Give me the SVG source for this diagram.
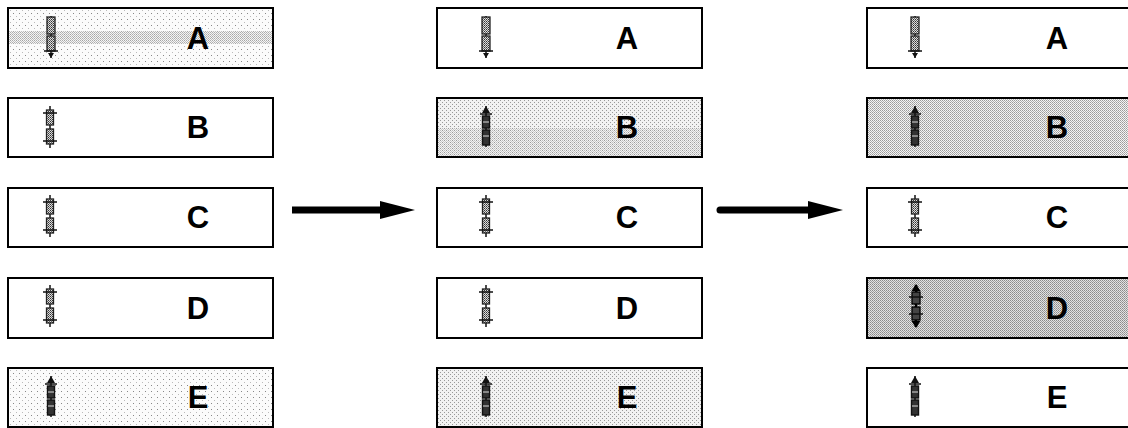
<svg xmlns="http://www.w3.org/2000/svg" width="1128" height="428" viewBox="0 0 1128 428">
<style>
.box{stroke:#000;stroke-width:2;fill:#fff}
.lbl{font-family:"Liberation Sans",Arial,sans-serif;font-weight:bold;font-size:31px;fill:#000;text-anchor:middle}
.ic{stroke:#222;stroke-width:1.3;fill:url(#hatch)}
.icd{stroke:#111;stroke-width:1.4;fill:#333}
.ln{stroke:#111;stroke-width:1.5;fill:none}
</style>
<defs>
<pattern id="hatch" width="2" height="2" patternUnits="userSpaceOnUse">
<rect width="2" height="2" fill="#ddd"/>
<rect x="0" y="0" width="1" height="1" fill="#333"/>
<rect x="1" y="1" width="1" height="1" fill="#666"/>
</pattern>
<pattern id="light" width="6" height="6" patternUnits="userSpaceOnUse">
<rect width="6" height="6" fill="#fbfbfb"/>
<rect x="1" y="1" width="1" height="1" fill="#888"/>
<rect x="4" y="4" width="1" height="1" fill="#bbb"/>
</pattern>
<pattern id="med" width="4" height="4" patternUnits="userSpaceOnUse">
<rect width="4" height="4" fill="#f2f2f2"/>
<rect x="0" y="0" width="1" height="1" fill="#999"/>
<rect x="2" y="2" width="1" height="1" fill="#999"/>
</pattern>
<pattern id="dense" width="2" height="2" patternUnits="userSpaceOnUse">
<rect width="2" height="2" fill="#f4f4f4"/>
<rect x="0" y="0" width="1" height="1" fill="#9a9a9a"/>
<rect x="1" y="1" width="1" height="1" fill="#b0b0b0"/>
</pattern>
<pattern id="dense2" width="2" height="2" patternUnits="userSpaceOnUse">
<rect width="2" height="2" fill="#e2e2e2"/>
<rect x="0" y="0" width="1" height="1" fill="#8a8a8a"/>
<rect x="1" y="1" width="1" height="1" fill="#a0a0a0"/>
</pattern>
<symbol id="pin" overflow="visible">
<line class="ln" x1="0" y1="-21" x2="0" y2="21"/>
<rect class="ic" x="-3.5" y="-17" width="7" height="15"/>
<rect class="ic" x="-3.5" y="2" width="7" height="15"/>
<line class="ln" x1="-7" y1="-14" x2="7" y2="-14"/>
<line class="ln" x1="-7" y1="14" x2="7" y2="14"/>
</symbol>
<symbol id="down" overflow="visible">
<line class="ln" x1="0" y1="-21" x2="0" y2="21"/>
<rect class="ic" x="-4" y="-20" width="8" height="17"/>
<rect class="ic" x="-4" y="-1" width="8" height="15"/>
<line class="ln" x1="-7" y1="14" x2="7" y2="14"/>
<path d="M-3,16 L0,21 L3,16 Z" fill="#111"/>
</symbol>
<symbol id="up" overflow="visible">
<line class="ln" x1="0" y1="-21" x2="0" y2="20"/>
<path d="M-4,-14 L0,-21 L4,-14 Z" fill="#111"/>
<line class="ln" x1="-6" y1="-13" x2="6" y2="-13"/>
<rect class="icd" x="-3.5" y="-11" width="7" height="12"/>
<rect class="icd" x="-3.5" y="3" width="7" height="15"/>
<line x1="-3" y1="-5" x2="3" y2="-5" stroke="#ddd" stroke-width="1"/>
<line x1="-3" y1="9" x2="3" y2="9" stroke="#ddd" stroke-width="1"/>
</symbol>
<symbol id="dbl" overflow="visible">
<line x1="0" y1="-21" x2="0" y2="21" stroke="#000" stroke-width="2.5"/>
<path d="M-4.5,-15 L0,-22 L4.5,-15 Z" fill="#000"/>
<path d="M-4.5,15 L0,22 L4.5,15 Z" fill="#000"/>
<rect x="-4" y="-14" width="8" height="12" fill="#444" stroke="#000" stroke-width="1.3"/>
<rect x="-4" y="1" width="8" height="13" fill="#444" stroke="#000" stroke-width="1.3"/>
<line class="ln" x1="-7" y1="-9" x2="7" y2="-9"/>
<line class="ln" x1="-7" y1="8" x2="7" y2="8"/>
</symbol>
</defs>

<g id="c1A"><rect class="box" x="8" y="8" width="265" height="60" style="fill:url(#light)"/><rect x="9" y="31" width="263" height="13" fill="url(#dense)" opacity="0.8"/><use href="#down" x="51" y="37"/><text class="lbl" x="198" y="49">A</text></g>
<g id="c1B"><rect class="box" x="8" y="98" width="265" height="59"/><use href="#pin" x="50" y="127"/><text class="lbl" x="198" y="138">B</text></g>
<g id="c1C"><rect class="box" x="8" y="188" width="265" height="59"/><use href="#pin" x="50" y="216"/><text class="lbl" x="198" y="228">C</text></g>
<g id="c1D"><rect class="box" x="8" y="278" width="265" height="60"/><use href="#pin" x="50" y="306"/><text class="lbl" x="198" y="319">D</text></g>
<g id="c1E"><rect class="box" x="8" y="368" width="265" height="59" style="fill:url(#light)"/><use href="#up" x="51" y="397"/><text class="lbl" x="198" y="408">E</text></g>

<g id="c2A"><rect class="box" x="437" y="8" width="265" height="60"/><use href="#down" x="486" y="37"/><text class="lbl" x="627" y="49">A</text></g>
<g id="c2B"><rect class="box" x="437" y="98" width="265" height="59" style="fill:url(#med)"/><rect x="438" y="128" width="263" height="28" fill="url(#dense)" opacity="0.6"/><use href="#up" x="486" y="127"/><text class="lbl" x="627" y="138">B</text></g>
<g id="c2C"><rect class="box" x="437" y="188" width="265" height="59"/><use href="#pin" x="486" y="216"/><text class="lbl" x="627" y="228">C</text></g>
<g id="c2D"><rect class="box" x="437" y="278" width="265" height="60"/><use href="#pin" x="486" y="306"/><text class="lbl" x="627" y="319">D</text></g>
<g id="c2E"><rect class="box" x="437" y="368" width="265" height="59" style="fill:url(#med)"/><use href="#up" x="486" y="397"/><text class="lbl" x="627" y="408">E</text></g>

<g id="c3A"><rect class="box" x="867" y="8" width="265" height="60"/><use href="#down" x="915" y="37"/><text class="lbl" x="1057" y="49">A</text></g>
<g id="c3B"><rect class="box" x="867" y="98" width="265" height="59" style="fill:url(#dense)"/><use href="#up" x="915" y="127"/><text class="lbl" x="1057" y="138">B</text></g>
<g id="c3C"><rect class="box" x="867" y="188" width="265" height="59"/><use href="#pin" x="915" y="216"/><text class="lbl" x="1057" y="228">C</text></g>
<g id="c3D"><rect class="box" x="867" y="278" width="265" height="60" style="fill:url(#dense2)"/><use href="#dbl" x="916" y="306"/><text class="lbl" x="1057" y="319">D</text></g>
<g id="c3E"><rect class="box" x="867" y="368" width="265" height="59"/><use href="#up" x="915" y="397"/><text class="lbl" x="1057" y="408">E</text></g>

<g id="connectors">
<line x1="292" y1="210" x2="384" y2="210" stroke="#000" stroke-width="7"/>
<polygon points="380,201 415,210 380,219" fill="#000"/>
<line x1="720" y1="210" x2="812" y2="210" stroke="#000" stroke-width="7" stroke-linecap="round"/>
<polygon points="808,201 843,210 808,219" fill="#000"/>
</g>
</svg>
